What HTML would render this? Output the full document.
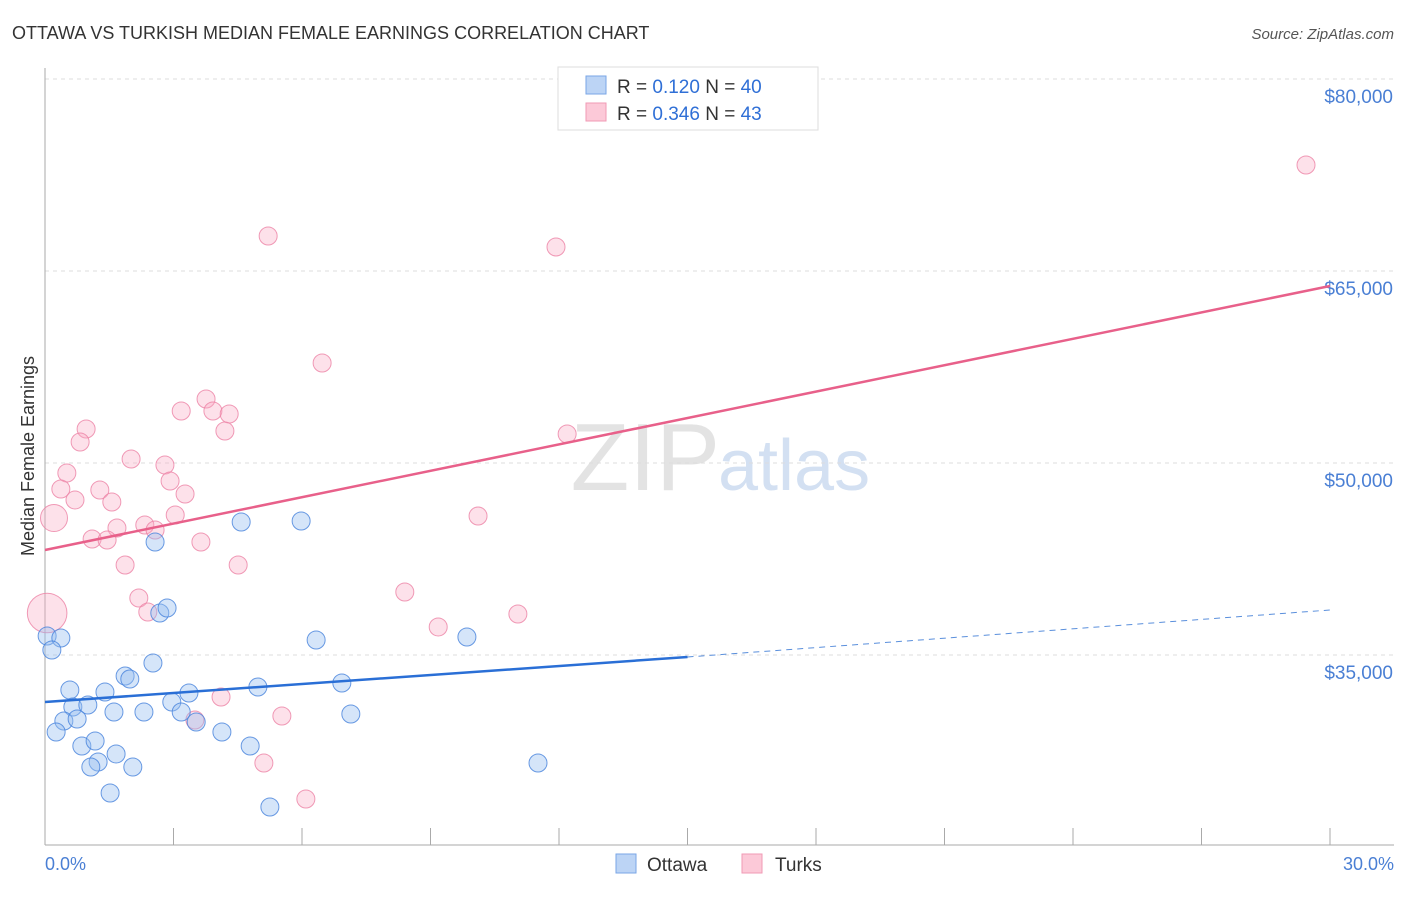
<!DOCTYPE html>
<html><head><meta charset="utf-8"><style>
body{margin:0;background:#fff;font-family:"Liberation Sans",sans-serif}
svg text{font-family:"Liberation Sans",sans-serif}
</style></head><body>
<svg id="chart" width="1406" height="892" xmlns="http://www.w3.org/2000/svg">
<text x="12" y="39" font-size="18" fill="#333">OTTAWA VS TURKISH MEDIAN FEMALE EARNINGS CORRELATION CHART</text>
<text x="1394" y="39" font-size="15" fill="#555" text-anchor="end" font-style="italic">Source: ZipAtlas.com</text>
<text x="720" y="490" font-size="96" fill="#ddd" text-anchor="end" font-family="Liberation Serif" opacity="0.8">ZIP</text>
<text x="718" y="490" font-size="72" fill="#c9d9ef" opacity="0.8">atlas</text>
<g id="grid"></g><g id="axes"></g><g id="marks"></g>
<text transform="translate(34,456) rotate(-90)" font-size="18" fill="#333" text-anchor="middle">Median Female Earnings</text>
<text x="45" y="870" font-size="18" fill="#4a7fd4">0.0%</text>
<text x="1394" y="870" font-size="18" fill="#4a7fd4" text-anchor="end">30.0%</text>
<g>
<rect x="558" y="67" width="260" height="63" fill="#fff" stroke="#ddd"/>
<rect x="586" y="76" width="20" height="18" fill="#bcd4f5" stroke="#7aa6e6"/>
<rect x="586" y="103" width="20" height="18" fill="#fcc9d8" stroke="#f09ab5"/>
<text x="617" y="93" font-size="19" fill="#333">R =  <tspan fill="#2f6fd6">0.120</tspan>    N =  <tspan fill="#2f6fd6">40</tspan></text>
<text x="617" y="120" font-size="19" fill="#333">R = <tspan fill="#2f6fd6">0.346</tspan>    N =  <tspan fill="#2f6fd6">43</tspan></text>
</g>
<g>
<rect x="616" y="854" width="20" height="19" fill="#bcd4f5" stroke="#7aa6e6"/>
<text x="647" y="871" font-size="19" fill="#333">Ottawa</text>
<rect x="742" y="854" width="20" height="19" fill="#fcc9d8" stroke="#f09ab5"/>
<text x="775" y="871" font-size="19" fill="#333">Turks</text>
</g>
</svg>
<script>
const yTicks=[80000,65000,50000,35000];
const yTickLabels=["$80,000","$65,000","$50,000","$35,000"];
const xTicks=[0,3,6,9,12,15,18,21,24,27,30];
const ottawaX=[0.05,0.37,0.16,0.58,0.65,1.00,0.44,0.75,0.26,0.86,1.17,1.24,1.07,1.66,2.05,1.52,1.40,1.61,1.87,1.98,2.31,2.52,2.57,2.68,2.85,2.96,3.18,3.36,3.53,4.13,4.79,4.58,4.97,5.25,5.98,6.33,6.93,7.14,9.85,11.51];
const ottawaY=[36484,36328,35391,32266,30938,31094,29844,30000,28984,27891,28281,26641,26250,27266,26250,24219,32109,30547,33359,33125,30547,34375,43828,38281,38672,31328,30547,32031,29766,28984,27891,45391,32500,23125,45469,36172,32813,30391,36406,26563];
const turksX=[29.44,5.21,11.93,6.47,3.76,3.18,3.92,4.30,4.20,0.96,0.82,0.51,2.01,2.80,2.92,0.37,1.28,0.70,1.56,3.27,0.21,1.68,2.33,2.57,3.04,1.10,1.45,3.64,1.87,4.51,12.19,10.11,2.19,2.40,8.40,11.04,9.18,0.05,4.11,3.50,5.53,5.11,6.09];
const turksY=[73281,67734,66875,57813,55000,54063,54063,53828,52500,52656,51641,49219,50313,49844,48594,47969,47891,47109,46953,47578,45703,44922,45156,44766,45938,44063,43984,43828,42031,42031,52266,45859,39453,38359,39922,38203,37188,38281,31719,29922,30234,26563,23750];
const turksSize=[1,1,1,1,1,1,1,1,1,1,1,1,1,1,1,1,1,1,1,1,1.5,1,1,1,1,1,1,1,1,1,1,1,1,1,1,1,1,2.2,1,1,1,1,1];
const ottawaFit=[31328,34844,38516];
const ottawaFitX=[0,15,30];
const turksFit=[43203,63828];
const turksFitX=[0,30];
const NS="http://www.w3.org/2000/svg";
const X=v=>45+v/30*1285;
const Y=v=>79+(80000-v)/15000*192;
function mk(tag,attrs,parent){const e=document.createElementNS(NS,tag);for(const k in attrs)e.setAttribute(k,attrs[k]);document.getElementById(parent).appendChild(e);return e;}
yTicks.forEach((t,i)=>{
 const g=mk('line',{x1:45,x2:1394,y1:Y(t),y2:Y(t),stroke:'#ddd','stroke-dasharray':'4,4'},'grid');
 
 
 const tx=mk('text',{x:1393,y:Y(t)+24,'font-size':19,fill:'#4a7fd4','text-anchor':'end'},'grid');
 tx.textContent=yTickLabels[i];
 
 
});
const ax=mk('line',{x1:45,x2:45,y1:68,y2:845,stroke:'#aaa'},'axes');


const bx=mk('line',{x1:45,x2:1394,y1:845,y2:845,stroke:'#aaa'},'axes');


xTicks.forEach(t=>{
 const l=mk('line',{x1:X(t),x2:X(t),y1:828,y2:845,stroke:'#aaa'},'axes');
 
 
});
turksX.forEach((v,i)=>{
 const c=mk('circle',{cx:X(v),cy:Y(turksY[i]),r:9*turksSize[i],fill:'rgba(248,170,195,0.35)',stroke:'rgba(236,130,165,0.8)','stroke-width':1},'marks');
 
 
});
ottawaX.forEach((v,i)=>{
 const c=mk('circle',{cx:X(v),cy:Y(ottawaY[i]),r:9,fill:'rgba(150,190,240,0.4)',stroke:'rgba(70,130,220,0.8)','stroke-width':1},'marks');
 
 
});
const tl=mk('line',{x1:X(turksFitX[0]),y1:Y(turksFit[0]),x2:X(turksFitX[1]),y2:Y(turksFit[1]),stroke:'#e8608a','stroke-width':2.5},'marks');


const ol=mk('line',{x1:X(ottawaFitX[0]),y1:Y(ottawaFit[0]),x2:X(ottawaFitX[1]),y2:Y(ottawaFit[1]),stroke:'#2a6fd6','stroke-width':2.5},'marks');


const od=mk('line',{x1:X(ottawaFitX[1]),y1:Y(ottawaFit[1]),x2:X(ottawaFitX[2]),y2:Y(ottawaFit[2]),stroke:'#5a8fdc','stroke-width':1,'stroke-dasharray':'6,5'},'marks');


</script>
</body></html>
